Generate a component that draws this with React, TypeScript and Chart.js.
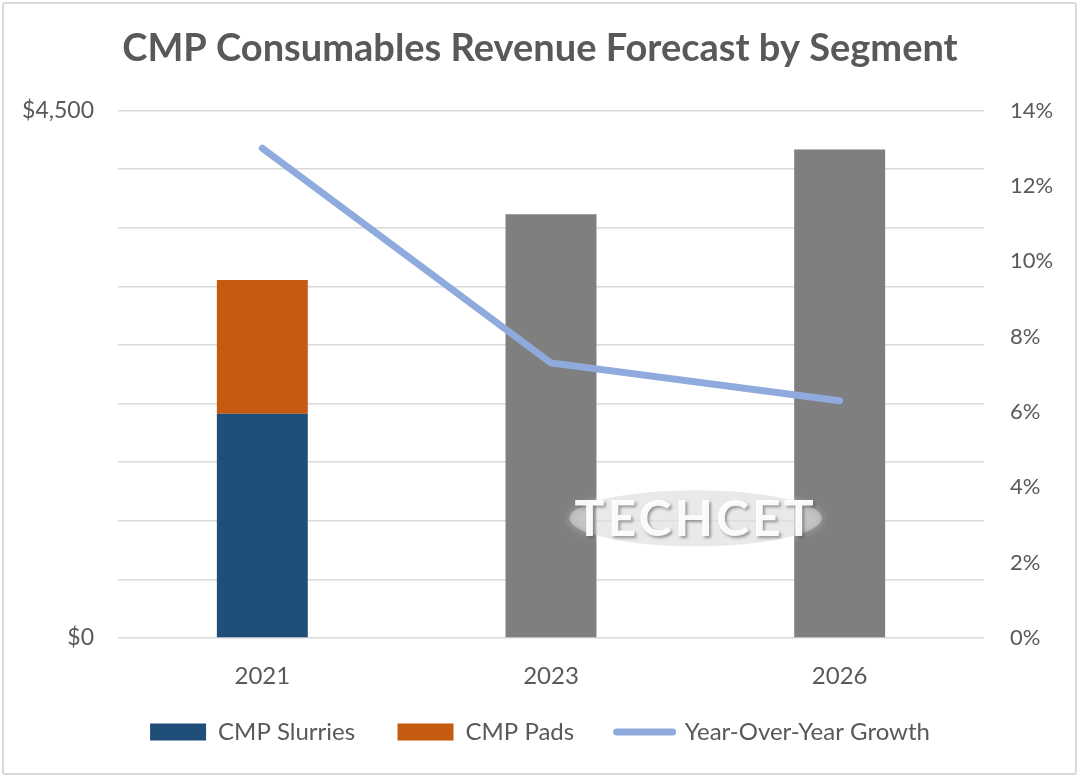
import React, { useEffect, useRef } from 'react';
import { Chart, registerables } from 'chart.js';

Chart.register(...registerables);

const years = ['2021', '2023', '2026'];
const slurries = [1914, null, null];
const pads = [1140, null, null];
const forecastTotal = [null, 3615, 4168];
const yoyGrowth = [13.0, 7.3, 6.3];

const FONT = 'Lato, "Open Sans", sans-serif';
const TEXT = '#595959';
const GAP = '\u00A0\u00A0\u00A0';

// TECHCET watermark
const watermark = {
  id: 'watermark',
  afterDatasetsDraw(chart: any) {
    const { ctx, chartArea } = chart;
    const cx = chartArea.left + (chartArea.right - chartArea.left) * 0.667;
    const cy = chartArea.top + (chartArea.bottom - chartArea.top) * 0.773;
    ctx.save();
    ctx.shadowColor = 'rgba(255,255,255,0.7)';
    ctx.shadowBlur = 8;
    ctx.fillStyle = 'rgba(215,215,215,0.55)';
    ctx.beginPath();
    ctx.ellipse(cx, cy, 126, 28, 0, 0, Math.PI * 2);
    ctx.fill();
    ctx.shadowBlur = 3;
    ctx.shadowOffsetX = 2;
    ctx.shadowOffsetY = 2;
    ctx.shadowColor = 'rgba(60,60,60,0.5)';
    ctx.font = `bold 50px ${FONT}`;
    (ctx as any).letterSpacing = '3px';
    ctx.textAlign = 'center';
    ctx.textBaseline = 'middle';
    ctx.fillStyle = 'rgba(255,255,255,0.95)';
    ctx.fillText('TECHCET', cx, cy + 2);
    ctx.restore();
  },
};

const App: React.FC = () => {
  const canvasRef = useRef<HTMLCanvasElement>(null);

  useEffect(() => {
    if (!canvasRef.current) return;
    const chart = new Chart(canvasRef.current, {
      type: 'bar',
      data: {
        labels: years,
        datasets: [
          {
            type: 'line',
            label: 'Year-Over-Year Growth',
            data: yoyGrowth,
            yAxisID: 'y1',
            borderColor: '#8FAADC',
            backgroundColor: '#8FAADC',
            borderWidth: 7,
            borderCapStyle: 'round',
            pointRadius: 0,
            tension: 0,
            order: 0,
          } as any,
          {
            label: 'CMP Slurries',
            data: slurries,
            backgroundColor: '#1F4E79',
            stack: 'rev',
            order: 1,
          },
          {
            label: 'CMP Pads',
            data: pads,
            backgroundColor: '#C55A11',
            stack: 'rev',
            order: 1,
          },
          {
            label: 'Forecast',
            data: forecastTotal,
            backgroundColor: '#7F7F7F',
            stack: 'rev',
            order: 1,
          },
        ],
      },
      options: {
        animation: false,
        responsive: false,
        maintainAspectRatio: false,
        layout: { padding: { bottom: 25 } },
        datasets: { bar: { barPercentage: 0.315, categoryPercentage: 1 } },
        plugins: {
          title: {
            display: true,
            text: 'CMP Consumables Revenue Forecast by Segment',
            color: TEXT,
            font: { family: FONT, size: 38, weight: 'bold' },
            padding: { top: 26, bottom: 39 },
          },
          legend: {
            position: 'bottom',
            labels: {
              color: TEXT,
              font: { family: FONT, size: 24 },
              usePointStyle: true,
              pointStyleWidth: 56,
              boxHeight: 17,
              padding: 24,
              generateLabels: (c: any) => {
                const ds = c.data.datasets;
                const order = [1, 2, 0];
                return order.map((i) => {
                  const isLine = i === 0;
                  return {
                    text: isLine ? ds[i].label : ds[i].label + GAP,
                    fillStyle: ds[i].backgroundColor,
                    strokeStyle: isLine ? ds[i].borderColor : ds[i].backgroundColor,
                    lineWidth: isLine ? 7 : 0,
                    lineCap: 'round',
                    pointStyle: isLine ? 'line' : 'rect',
                    fontColor: TEXT,
                    hidden: false,
                    datasetIndex: i,
                  };
                });
              },
            },
          },
          tooltip: { enabled: false },
        },
        scales: {
          x: {
            grid: { display: false },
            border: { display: false },
            ticks: { color: TEXT, font: { family: FONT, size: 24 }, padding: 16 },
            afterFit: (s: any) => { s.height = 58; },
          },
          y: {
            position: 'left',
            stacked: true,
            min: 0,
            max: 4500,
            grid: { color: '#D9D9D9', lineWidth: 1.5, drawTicks: false },
            border: { display: false },
            ticks: {
              stepSize: 500,
              color: TEXT,
              font: { family: FONT, size: 23 },
              padding: 24,
              callback: (v: any) => (v === 0 || v === 4500 ? '$' + Number(v).toLocaleString('en-US') : ''),
            },
            afterFit: (s: any) => { s.width = 118; },
          },
          y1: {
            position: 'right',
            min: 0,
            max: 14,
            grid: { drawOnChartArea: false, drawTicks: false },
            border: { display: false },
            ticks: {
              stepSize: 2,
              color: TEXT,
              font: { family: FONT, size: 22 },
              padding: 26,
              callback: (v: any) => v + '%',
            },
            afterFit: (s: any) => { s.width = 96; },
          },
        },
      },
      plugins: [watermark],
    });
    return () => chart.destroy();
  }, []);

  return (
    <div style={{ position: 'fixed', left: 0, top: 0, width: 1080, height: 779, background: '#fff' }}>
      <canvas ref={canvasRef} width={1080} height={779} style={{ width: 1080, height: 779 }} />
      <div
        style={{
          position: 'absolute',
          left: 2,
          top: 2,
          width: 1071,
          height: 769,
          border: '2px solid #D9D9D9',
          borderRadius: 3,
          pointerEvents: 'none',
        }}
      />
    </div>
  );
};

export default App;
